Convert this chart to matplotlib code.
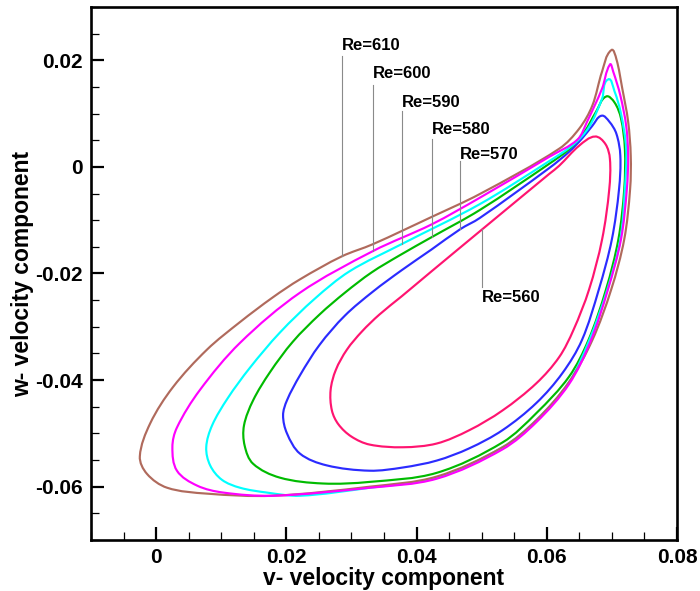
import numpy as np
import matplotlib
matplotlib.use('Agg')
import matplotlib.pyplot as plt
from matplotlib.path import Path
from matplotlib.patches import PathPatch
from matplotlib.ticker import MultipleLocator, FixedLocator, FixedFormatter

plt.rcParams['font.family'] = ['Liberation Sans', 'DejaVu Sans']
plt.rcParams['font.weight'] = 'bold'

# --- limit cycles (v, w), un lazo cerrado por Re ---
v_610 = [0.0699, 0.0685, 0.0670, 0.0650, 0.0619, 0.0497, 0.0423, 0.0333, 0.0285, 0.0221,
         0.0179, 0.0129, 0.0078, 0.0026, -0.0009, -0.0025, -0.0014, 0.0017, 0.0078, 0.0179,
         0.0328, 0.0431, 0.0532, 0.0584, 0.0634, 0.0670, 0.0699, 0.0719, 0.0728, 0.0729,
         0.0725, 0.0716, 0.0707]
w_610 = [0.0219, 0.0179, 0.0115, 0.0072, 0.0034, -0.0051, -0.0094, -0.0145, -0.0168, -0.0211,
         -0.0245, -0.0291, -0.0343, -0.0413, -0.0481, -0.0543, -0.0576, -0.0602, -0.0613, -0.0617,
         -0.0600, -0.0581, -0.0526, -0.0475, -0.0404, -0.0325, -0.0230, -0.0136, -0.0042, 0.0021,
         0.0085, 0.0147, 0.0202]

v_600 = [0.0697, 0.0685, 0.0662, 0.0647, 0.0604, 0.0497, 0.0423, 0.0333, 0.0221, 0.0129,
         0.0067, 0.0032, 0.0025, 0.0032, 0.0063, 0.0103, 0.0179, 0.0328, 0.0431, 0.0532,
         0.0584, 0.0634, 0.0667, 0.0694, 0.0714, 0.0723, 0.0725, 0.0722, 0.0713, 0.0702]
w_600 = [0.0192, 0.0147, 0.0085, 0.0051, 0.0019, -0.0058, -0.0108, -0.0158, -0.0236, -0.0330,
         -0.0419, -0.0489, -0.0526, -0.0570, -0.0598, -0.0611, -0.0617, -0.0602, -0.0585, -0.0530,
         -0.0479, -0.0408, -0.0328, -0.0230, -0.0136, -0.0042, 0.0021, 0.0077, 0.0134, 0.0179]

v_590 = [0.0694, 0.0685, 0.0665, 0.0642, 0.0604, 0.0497, 0.0377, 0.0297, 0.0244, 0.0190,
         0.0144, 0.0110, 0.0086, 0.0077, 0.0083, 0.0101, 0.0129, 0.0170, 0.0221, 0.0328,
         0.0431, 0.0532, 0.0584, 0.0634, 0.0665, 0.0693, 0.0713, 0.0720, 0.0722, 0.0714,
         0.0704]
w_590 = [0.0164, 0.0128, 0.0075, 0.0043, 0.0011, -0.0070, -0.0145, -0.0196, -0.0247, -0.0311,
         -0.0377, -0.0434, -0.0485, -0.0526, -0.0560, -0.0587, -0.0602, -0.0611, -0.0617, -0.0602,
         -0.0583, -0.0526, -0.0475, -0.0404, -0.0326, -0.0230, -0.0136, -0.0042, 0.0034, 0.0100,
         0.0142]

v_580 = [0.0691, 0.0676, 0.0658, 0.0635, 0.0604, 0.0497, 0.0423, 0.0374, 0.0331, 0.0290,
         0.0251, 0.0210, 0.0175, 0.0149, 0.0135, 0.0136, 0.0149, 0.0190, 0.0256, 0.0328,
         0.0431, 0.0532, 0.0584, 0.0634, 0.0664, 0.0691, 0.0710, 0.0719, 0.0720, 0.0714,
         0.0704]
w_580 = [0.0132, 0.0104, 0.0066, 0.0034, 0.0006, -0.0081, -0.0132, -0.0166, -0.0198, -0.0236,
         -0.0277, -0.0328, -0.0385, -0.0438, -0.0485, -0.0523, -0.0557, -0.0583, -0.0594, -0.0591,
         -0.0574, -0.0517, -0.0462, -0.0394, -0.0325, -0.0230, -0.0136, -0.0042, 0.0034, 0.0091,
         0.0121]

v_570 = [0.0684, 0.0670, 0.0654, 0.0634, 0.0604, 0.0497, 0.0467, 0.0423, 0.0377, 0.0333,
         0.0290, 0.0251, 0.0221, 0.0201, 0.0195, 0.0201, 0.0221, 0.0262, 0.0328, 0.0379,
         0.0431, 0.0481, 0.0532, 0.0584, 0.0624, 0.0654, 0.0680, 0.0700, 0.0711, 0.0713,
         0.0707, 0.0696]
w_570 = [0.0096, 0.0077, 0.0053, 0.0028, -0.0002, -0.0096, -0.0117, -0.0155, -0.0194, -0.0234,
         -0.0279, -0.0334, -0.0391, -0.0438, -0.0466, -0.0500, -0.0538, -0.0560, -0.0570, -0.0564,
         -0.0551, -0.0528, -0.0494, -0.0443, -0.0387, -0.0325, -0.0230, -0.0136, -0.0042, 0.0021,
         0.0062, 0.0085]

v_560 = [0.0674, 0.0650, 0.0619, 0.0604, 0.0501, 0.0423, 0.0377, 0.0343, 0.0316, 0.0293,
         0.0276, 0.0268, 0.0270, 0.0280, 0.0300, 0.0328, 0.0379, 0.0431, 0.0481, 0.0532,
         0.0584, 0.0619, 0.0641, 0.0665, 0.0685, 0.0696, 0.0697, 0.0690]
w_560 = [0.0057, 0.0040, 0.0002, -0.0013, -0.0117, -0.0196, -0.0243, -0.0277, -0.0309, -0.0343,
         -0.0381, -0.0419, -0.0457, -0.0483, -0.0506, -0.0521, -0.0526, -0.0519, -0.0494, -0.0457,
         -0.0406, -0.0357, -0.0306, -0.0230, -0.0136, -0.0042, 0.0015, 0.0043]

# etiquetas: Re, x de la linea guia, base del texto, tope y fondo de la linea
re_labels = ['Re=610', 'Re=600', 'Re=590', 'Re=580', 'Re=570', 'Re=560']
lead_x = [0.0285, 0.0333, 0.0377, 0.0423, 0.0467, 0.0501]
lead_top = [0.0208, 0.0153, 0.0104, 0.0053, 0.0011, -0.0117]
lead_bot = [-0.0168, -0.0158, -0.0145, -0.0132, -0.0117, -0.0225]
text_y = [0.0219, 0.0166, 0.0113, 0.0062, 0.0015, -0.0255]

x_ticks = [0, 0.02, 0.04, 0.06, 0.08]
x_ticklabels = ['0', '0.02', '0.04', '0.06', '0.08']
y_ticks = [-0.06, -0.04, -0.02, 0, 0.02]
y_ticklabels = ['-0.06', '-0.04', '-0.02', '0', '0.02']

XLIM = (-0.01, 0.08)
YLIM = (-0.07, 0.03)
# escala aproximada en pixeles por unidad (para suavizar en espacio de pantalla)
SX = 586 / (XLIM[1] - XLIM[0])
SY = 533 / (YLIM[1] - YLIM[0])


def smooth_loop(xs, ys):
    """Lazo cerrado suave por los puntos leidos (Bezier cubico con tangentes)."""
    p = np.column_stack([xs, ys]) * [SX, SY]
    n = len(p)
    tang = []
    for i in range(n):
        d = p[(i + 1) % n] - p[i - 1]
        tang.append(d / np.hypot(*d))
    verts = [p[0]]
    codes = [Path.MOVETO]
    for i in range(n):
        a, b = p[i], p[(i + 1) % n]
        L = np.hypot(*(b - a))
        verts += [a + tang[i] * L / 3.0, b - tang[(i + 1) % n] * L / 3.0, b]
        codes += [Path.CURVE4] * 3
    verts = np.array(verts) / [SX, SY]
    return Path(verts, codes)


fig = plt.figure(figsize=(7.0, 5.91), dpi=100)
ax = fig.add_axes([0.13, 0.0863, 0.8371, 0.9019])

loops = [
    (v_560, w_560, '#FF1470'),
    (v_570, w_570, '#2B2BFF'),
    (v_580, w_580, '#00BB00'),
    (v_590, w_590, '#00FFFF'),
    (v_610, w_610, '#B06A5C'),
    (v_600, w_600, '#FF00FF'),
]
for xs, ys, c in loops:
    ax.add_patch(PathPatch(smooth_loop(xs, ys), fill=False, edgecolor=c, lw=1.55))

for lab, lx, lt, lb, ty in zip(re_labels, lead_x, lead_top, lead_bot, text_y):
    ax.plot([lx, lx], [lt, lb], color='#8a8a8a', lw=0.8, zorder=1)
    if ty < lb:
        ax.text(lx, lb - 0.0006, lab, fontsize=12, fontweight='bold', ha='left', va='top')
    else:
        ax.text(lx, ty, lab, fontsize=12, fontweight='bold', ha='left', va='baseline')

ax.set_xlim(*XLIM)
ax.set_ylim(*YLIM)

ax.xaxis.set_major_locator(FixedLocator(x_ticks))
ax.xaxis.set_major_formatter(FixedFormatter(x_ticklabels))
ax.yaxis.set_major_locator(FixedLocator(y_ticks))
ax.yaxis.set_major_formatter(FixedFormatter(y_ticklabels))
ax.xaxis.set_minor_locator(MultipleLocator(0.005))
ax.yaxis.set_minor_locator(MultipleLocator(0.005))
ax.tick_params(which='both', direction='in', top=False, right=False)
ax.tick_params(which='major', length=9.5, width=1.6, labelsize=15, pad=6)
ax.tick_params(which='minor', length=5.5, width=0.9)
for s in ax.spines.values():
    s.set_linewidth(1.9)

ax.set_xlabel('v- velocity component', fontsize=16.5, fontweight='bold', labelpad=0)
ax.set_ylabel('w- velocity component', fontsize=16.5, fontweight='bold', labelpad=1)

fig.savefig('out.png', dpi=100)
